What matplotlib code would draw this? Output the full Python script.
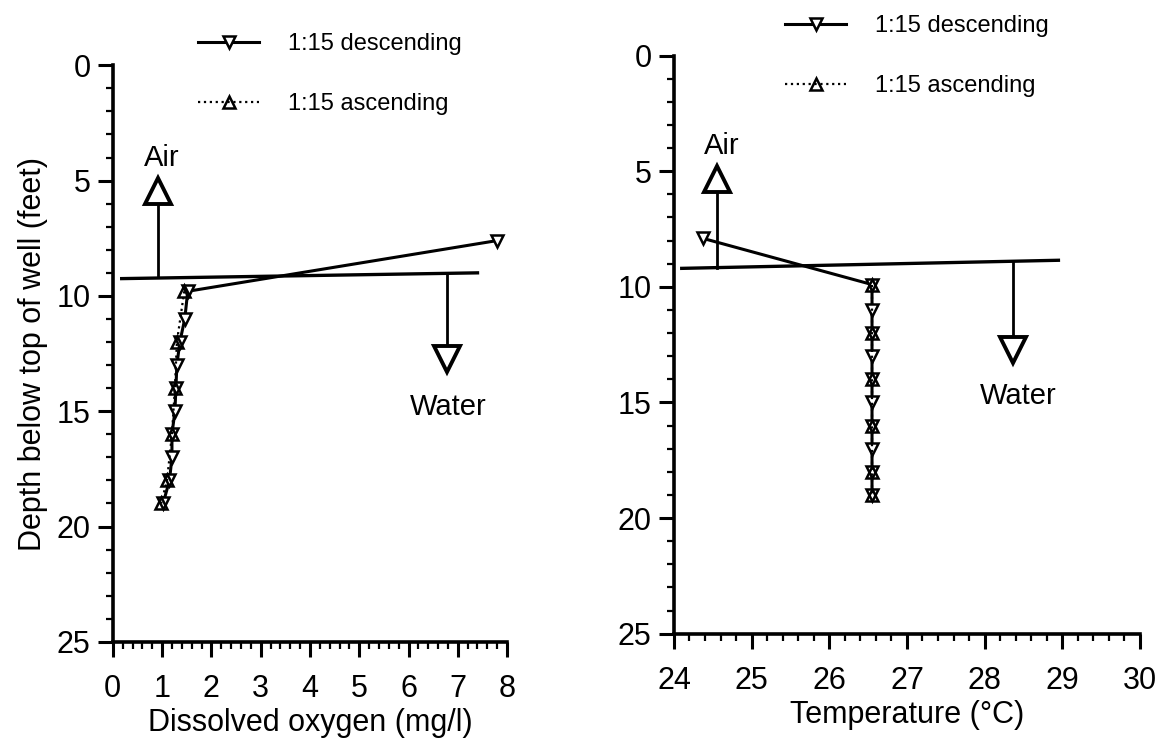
import matplotlib
matplotlib.use("Agg")
import matplotlib.pyplot as plt
import numpy as np
from matplotlib.ticker import MultipleLocator

plt.rcParams['font.family'] = ['Liberation Sans', 'DejaVu Sans']

# dissolved oxygen panel (mg/l vs depth, feet)
do_desc_depth = [7.6, 9.8, 11, 12, 13, 14, 15, 16, 17, 18, 19]
do_desc_val = [7.8, 1.52, 1.46, 1.36, 1.3, 1.28, 1.26, 1.2, 1.2, 1.15, 1.02]
do_asc_depth = [9.8, 12, 14, 16, 18, 19]
do_asc_val = [1.45, 1.3, 1.26, 1.2, 1.1, 0.98]
do_water_line = ([0.18, 7.4], [9.25, 9.0])
do_air = (0.91, 9.2, 4.9)      # x, from depth, to depth (arrow tip)
do_water = (6.78, 9.05, 13.3)

# temperature panel (deg C vs depth, feet)
t_desc_depth = [7.9, 9.9, 11, 12, 13, 14, 15, 16, 17, 18, 19]
t_desc_val = [24.37, 26.55, 26.55, 26.55, 26.55, 26.55, 26.55, 26.55, 26.55, 26.55, 26.55]
t_asc_depth = [9.9, 12, 14, 16, 18, 19]
t_asc_val = [26.55, 26.55, 26.55, 26.55, 26.55, 26.55]
t_water_line = ([24.1, 28.95], [9.2, 8.85])
t_air = (24.55, 9.2, 4.8)
t_water = (28.36, 8.9, 13.3)

labels = ['1:15 descending', '1:15 ascending']

fig = plt.figure(figsize=(11.63, 7.42), dpi=100)
ax1 = fig.add_axes([0.097, 0.135, 0.339, 0.777])
ax2 = fig.add_axes([0.5795, 0.146, 0.4007, 0.779])


def arrow(ax, x, y0, y1, up):
    # shaft plus an open triangle head, y1 is the tip
    d = 1 if up else -1
    ax.plot([x, x], [y0, y1 + d * 0.8], color='black', lw=2)
    ax.plot(x, y1 + d * 0.55, marker='^' if up else 'v', ms=19, mfc='white',
            mec='black', mew=2.8, clip_on=False)


def panel(ax, dx, dy, ax_, ay, line, air, water, xlim, xlabel):
    ld, = ax.plot(dx, dy, color='black', lw=2.2, marker='v', ms=9, mfc='white',
                  mec='black', mew=1.8, clip_on=False)
    la, = ax.plot(ax_, ay, color='black', lw=1.6, ls=':', marker='^', ms=9,
                  mfc='none', mec='black', mew=1.8, clip_on=False)
    ax.plot(line[0], line[1], color='black', lw=2.4)
    arrow(ax, air[0], air[1], air[2], True)
    arrow(ax, water[0], water[1], water[2], False)
    ax.set_xlim(*xlim)
    ax.set_ylim(25, 0)
    ax.xaxis.set_major_locator(MultipleLocator(1))
    ax.xaxis.set_minor_locator(MultipleLocator(0.2))
    ax.yaxis.set_major_locator(MultipleLocator(5))
    ax.yaxis.set_minor_locator(MultipleLocator(1))
    for s in ['top', 'right']:
        ax.spines[s].set_visible(False)
    for s in ['left', 'bottom']:
        ax.spines[s].set_linewidth(2.6)
    ax.tick_params(which='major', length=11, width=2.2, labelsize=22)
    ax.tick_params(axis='x', which='major', pad=12)
    ax.tick_params(axis='y', which='major', pad=5)
    ax.tick_params(which='minor', length=5, width=1.6)
    ax.set_xlabel(xlabel, fontsize=22, labelpad=3)
    return ld, la


leg_kw = dict(bbox_transform=fig.transFigure, frameon=False, fontsize=17,
              handlelength=2.6, handletextpad=1.2, labelspacing=1.6,
              borderpad=0, borderaxespad=0, loc='upper left')

ld, la = panel(ax1, do_desc_val, do_desc_depth, do_asc_val, do_asc_depth,
               do_water_line, do_air, do_water, (0, 8),
               'Dissolved oxygen (mg/l)')
ax1.set_ylabel('Depth below top of well (feet)', fontsize=22, labelpad=6)
ax1.text(1.0, 4.0, 'Air', fontsize=21, ha='center', va='center')
ax1.text(6.8, 14.8, 'Water', fontsize=21, ha='center', va='center')
ax1.legend([ld, la], labels, bbox_to_anchor=(198 / 1163, 1 - 33 / 742), **leg_kw)

ld, la = panel(ax2, t_desc_val, t_desc_depth, t_asc_val, t_asc_depth,
               t_water_line, t_air, t_water, (24, 30),
               'Temperature (°C)')
ax2.text(24.62, 3.9, 'Air', fontsize=21, ha='center', va='center')
ax2.text(28.43, 14.7, 'Water', fontsize=21, ha='center', va='center')
ax2.legend([ld, la], labels, bbox_to_anchor=(785 / 1163, 1 - 15 / 742), **leg_kw)

fig.savefig('out.png', dpi=100)
